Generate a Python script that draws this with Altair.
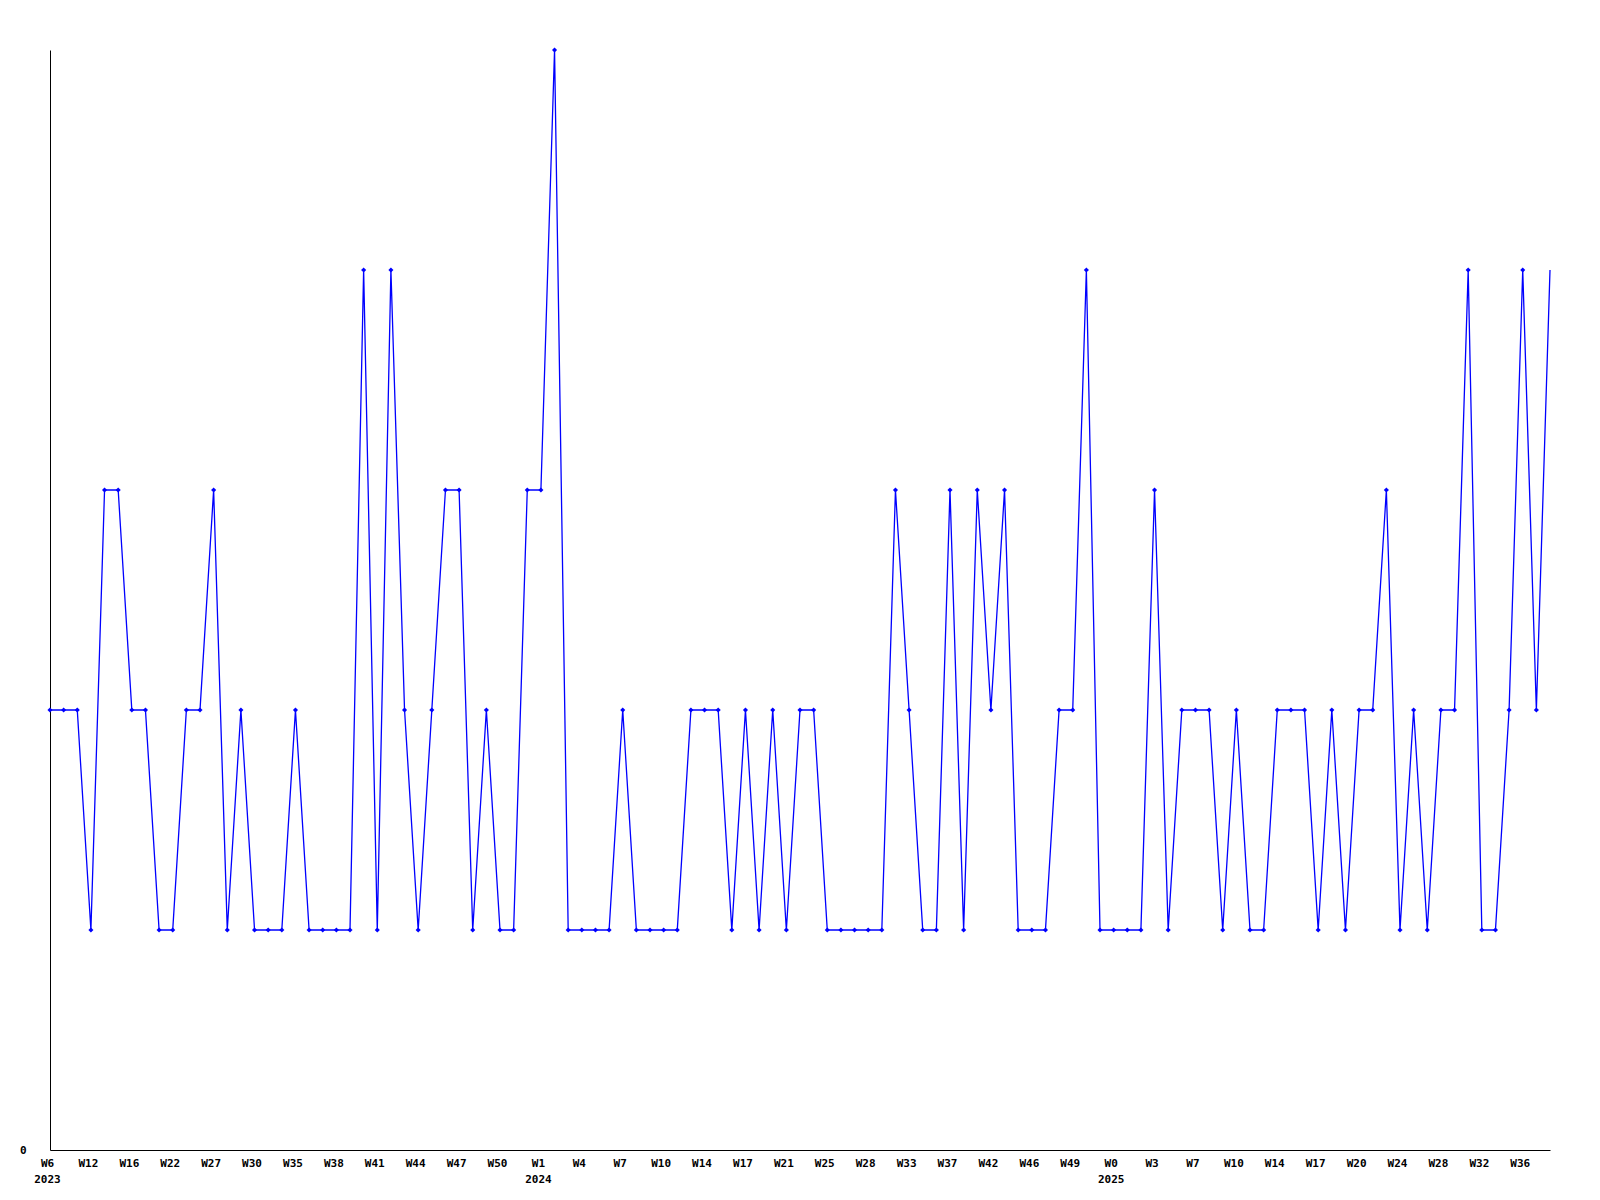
import altair as alt
import pandas as pd
import json

# Weekly values (one per data point, evenly spaced)
values = [2, 2, 2, 1, 3, 3, 2, 2, 1, 1,
          2, 2, 3, 1, 2, 1, 1, 1, 2, 1,
          1, 1, 1, 4, 1, 4, 2, 1, 2, 3,
          3, 1, 2, 1, 1, 3, 3, 5, 1, 1,
          1, 1, 2, 1, 1, 1, 1, 2, 2, 2,
          1, 2, 1, 2, 1, 2, 2, 1, 1, 1,
          1, 1, 3, 2, 1, 1, 3, 1, 3, 2,
          3, 1, 1, 1, 2, 2, 4, 1, 1, 1,
          1, 3, 1, 2, 2, 2, 1, 2, 1, 1,
          2, 2, 2, 1, 2, 1, 2, 2, 3, 1,
          2, 1, 2, 2, 4, 1, 1, 2, 4, 2,
          4]

# Tick labels, one every third point
week_labels = ["W6", "W12", "W16", "W22", "W27", "W30", "W35", "W38", "W41", "W44",
               "W47", "W50", "W1", "W4", "W7", "W10", "W14", "W17", "W21", "W25",
               "W28", "W33", "W37", "W42", "W46", "W49", "W0", "W3", "W7", "W10",
               "W14", "W17", "W20", "W24", "W28", "W32", "W36"]
year_labels = {0: "2023", 12: "2024", 26: "2025"}

label_step = 3
tick_values = [k * label_step for k in range(len(week_labels))]
label_arrays = [[w, year_labels[k]] if k in year_labels else w
                for k, w in enumerate(week_labels)]
label_expr = json.dumps(label_arrays) + f"[round(datum.value / {label_step})]"

df = pd.DataFrame({"i": list(range(len(values))), "v": values})
df["marker"] = df["i"] < len(values) - 1

FONT = "DejaVu Sans Mono"
BLUE = "#0000FF"

x = alt.X("i:Q",
          scale=alt.Scale(domain=[0, len(values) - 1], nice=False, zero=False),
          axis=alt.Axis(values=tick_values, labelExpr=label_expr, title=None,
                        grid=False, ticks=False, domainColor="black",
                        labelFont=FONT, labelFontWeight="bold", labelFontSize=11,
                        labelColor="black", labelPadding=7, labelLineHeight=16,
                        labelBaseline="top", labelAlign="center", labelOffset=-3,
                        labelOverlap=False, labelFlush=False))
y = alt.Y("v:Q",
          scale=alt.Scale(domain=[0, 5], nice=False),
          axis=alt.Axis(values=[0], title=None, grid=False, ticks=False,
                        domainColor="black", labelFont=FONT, labelFontWeight="bold",
                        labelFontSize=11, labelColor="black", labelPadding=24,
                        labelBaseline="middle"))

line = alt.Chart(df).mark_line(color=BLUE, strokeWidth=1.3).encode(x=x, y=y)
pts = alt.Chart(df).transform_filter("datum.marker").mark_point(
    shape="diamond", filled=True, color=BLUE, size=26, opacity=1
).encode(x=x, y=y)

chart = (line + pts).properties(
    width=1500, height=1100,
    background="white",
    autosize=alt.AutoSizeParams(type="none"),
    padding={"left": 42, "top": 42, "right": 42, "bottom": 60},
).configure_view(strokeWidth=0, stroke="transparent")

chart.save("out.html", embed_options={"renderer": "svg", "actions": False})
